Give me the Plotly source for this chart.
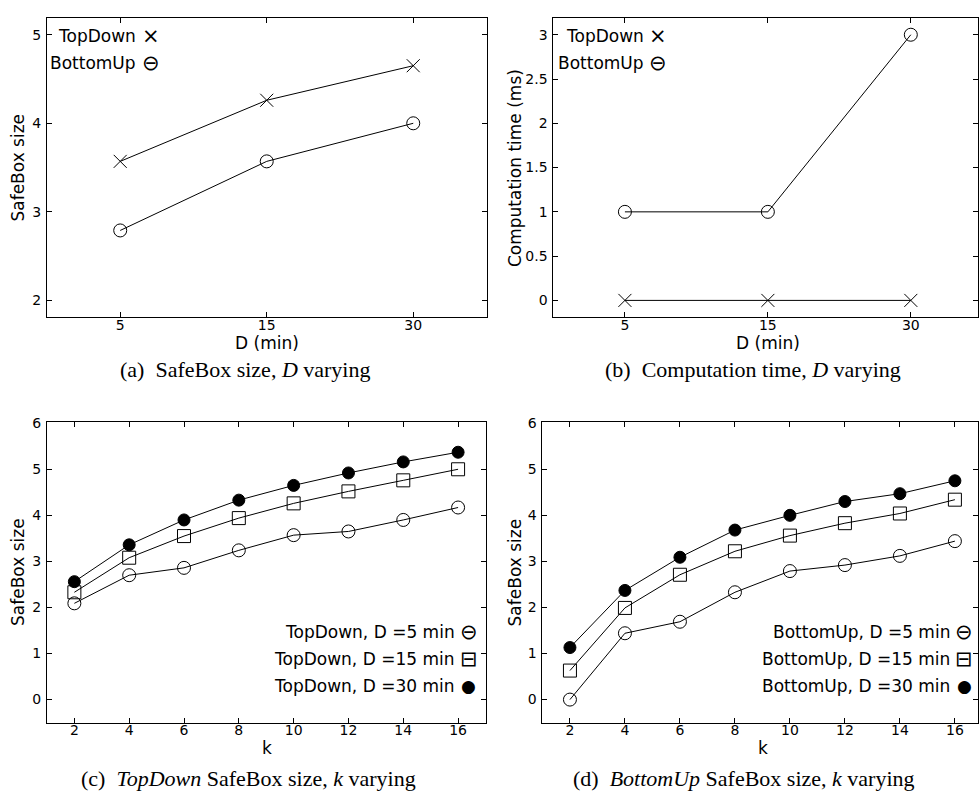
import plotly.graph_objects as go

# ---------------- data ----------------
d_labels = ["5", "15", "30"]
a_topdown = [3.57, 4.26, 4.65]
a_bottomup = [2.79, 3.57, 4.00]
b_topdown = [0, 0, 0]
b_bottomup = [1, 1, 3]

k_values = [2, 4, 6, 8, 10, 12, 14, 16]
c_d5 = [2.09, 2.70, 2.86, 3.24, 3.57, 3.65, 3.90, 4.17]
c_d15 = [2.33, 3.08, 3.55, 3.94, 4.26, 4.52, 4.76, 5.00]
c_d30 = [2.56, 3.36, 3.90, 4.33, 4.65, 4.92, 5.16, 5.37]
d_d5 = [0.00, 1.44, 1.69, 2.33, 2.79, 2.92, 3.12, 3.44]
d_d15 = [0.63, 1.99, 2.71, 3.22, 3.56, 3.83, 4.04, 4.34]
d_d30 = [1.13, 2.37, 3.09, 3.68, 4.00, 4.30, 4.47, 4.75]

W, H = 979, 792
SANS = "DejaVu Sans"
SERIF = "Liberation Serif"


def fx(p):
    return p / W


def fy(p):
    return 1 - p / H


fig = go.Figure()

LINE = dict(color="black", width=1)


def add(x, y, sym, size, xa, ya):
    fig.add_trace(go.Scatter(
        x=x, y=y, mode="lines+markers", xaxis=xa, yaxis=ya,
        line=LINE, showlegend=False, cliponaxis=False,
        marker=dict(symbol=sym, size=size, color="black",
                    line=dict(color="black", width=1)),
    ))


# (a)
add(d_labels, a_topdown, "x-thin-open", 13, "x", "y")
add(d_labels, a_bottomup, "circle-open", 13, "x", "y")
# (b)
add(d_labels, b_bottomup, "circle-open", 13, "x2", "y2")
add(d_labels, b_topdown, "x-thin-open", 13, "x2", "y2")
# (c)
add(k_values, c_d5, "circle-open", 13, "x3", "y3")
add(k_values, c_d15, "square-open", 13, "x3", "y3")
add(k_values, c_d30, "circle", 12, "x3", "y3")
# (d)
add(k_values, d_d5, "circle-open", 13, "x4", "y4")
add(k_values, d_d15, "square-open", 13, "x4", "y4")
add(k_values, d_d30, "circle", 12, "x4", "y4")

common = dict(showline=True, linecolor="black", linewidth=1, mirror="ticks",
              ticks="inside", ticklen=5, tickcolor="black", tickwidth=1,
              showgrid=False, zeroline=False,
              tickfont=dict(family=SANS, size=14, color="black"))
xcommon = dict(common, ticklabelstandoff=-5)
ycommon = dict(common, ticklabelstandoff=2)

fig.update_layout(
    width=W, height=H,
    margin=dict(l=0, r=0, t=0, b=0),
    paper_bgcolor="white", plot_bgcolor="white",
    xaxis=dict(domain=[fx(47), fx(487)], anchor="y", type="category",
               range=[-0.5, 2.5], **xcommon),
    yaxis=dict(domain=[fy(313), fy(11)], anchor="x",
               range=[1.81, 5.19], tickvals=[2, 3, 4, 5], **ycommon),
    xaxis2=dict(domain=[fx(554), 1.0], anchor="y2", type="category",
                range=[-0.5, 2.47], **xcommon),
    yaxis2=dict(domain=[fy(313), fy(11)], anchor="x2",
                range=[-0.19, 3.19], tickvals=[0, 0.5, 1, 1.5, 2, 2.5, 3],
                ticktext=["0", "0.5", "1", "1.5", "2", "2.5", "3"], **ycommon),
    xaxis3=dict(domain=[fx(47), fx(486)], anchor="y3",
                range=[1, 17], tickvals=k_values, **xcommon),
    yaxis3=dict(domain=[fy(722), fy(419)], anchor="x3",
                range=[-0.5, 6.02], tickvals=[0, 1, 2, 3, 4, 5, 6], **ycommon),
    xaxis4=dict(domain=[fx(543), 1.0], anchor="y4",
                range=[1, 16.84], tickvals=k_values, **xcommon),
    yaxis4=dict(domain=[fy(722), fy(419)], anchor="x4",
                range=[-0.5, 6.02], tickvals=[0, 1, 2, 3, 4, 5, 6], **ycommon),
)

ann = []


def text(x, y, s, size=17, family=SANS, xanchor="center", angle=0):
    ann.append(dict(x=fx(x), y=fy(y), xref="paper", yref="paper", text=s,
                    showarrow=False, xanchor=xanchor, yanchor="middle",
                    textangle=angle,
                    font=dict(family=family, size=size, color="black")))


# axis titles
text(18, 162, "SafeBox size", angle=-90)
text(515, 162, "Computation time (ms)", angle=-90)
text(18, 570, "SafeBox size", angle=-90)
text(515, 570, "SafeBox size", angle=-90)
text(267, 339, "D (min)")
text(769, 339, "D (min)")
text(267, 748, "k")
text(764, 748, "k")

# captions
text(245, 366, "(a)  SafeBox size, <i>D</i> varying", size=22, family=SERIF)
text(754, 366, "(b)  Computation time, <i>D</i> varying", size=22, family=SERIF)
text(249, 778, "(c)  <i>TopDown</i> SafeBox size, <i>k</i> varying", size=22, family=SERIF)
text(745, 778, "(d)  <i>BottomUp</i> SafeBox size, <i>k</i> varying", size=22, family=SERIF)


# legends
def legend(xend, xsym, ys, labels, syms, sizes):
    for y, lab, sym, sz in zip(ys, labels, syms, sizes):
        text(xend, y, lab, xanchor="right")
        text(xsym, y, sym, size=sz)


legend(138, 151, [29, 56], ["TopDown", "BottomUp"], ["×", "⊖"], [21, 21])
legend(647, 659, [29, 56], ["TopDown", "BottomUp"], ["×", "⊖"], [21, 21])
legend(457, 469, [631, 658, 685],
       ["TopDown, D =5 min", "TopDown, D =15 min", "TopDown, D =30 min"],
       ["⊖", "⊟", "●"], [21, 21, 17])
legend(953, 965, [631, 658, 685],
       ["BottomUp, D =5 min", "BottomUp, D =15 min", "BottomUp, D =30 min"],
       ["⊖", "⊟", "●"], [21, 21, 17])

fig.update_layout(annotations=ann)
fig.write_html("out.html", config={"displayModeBar": False},
               post_script="document.body.style.margin='0';document.body.style.overflow='hidden';")
